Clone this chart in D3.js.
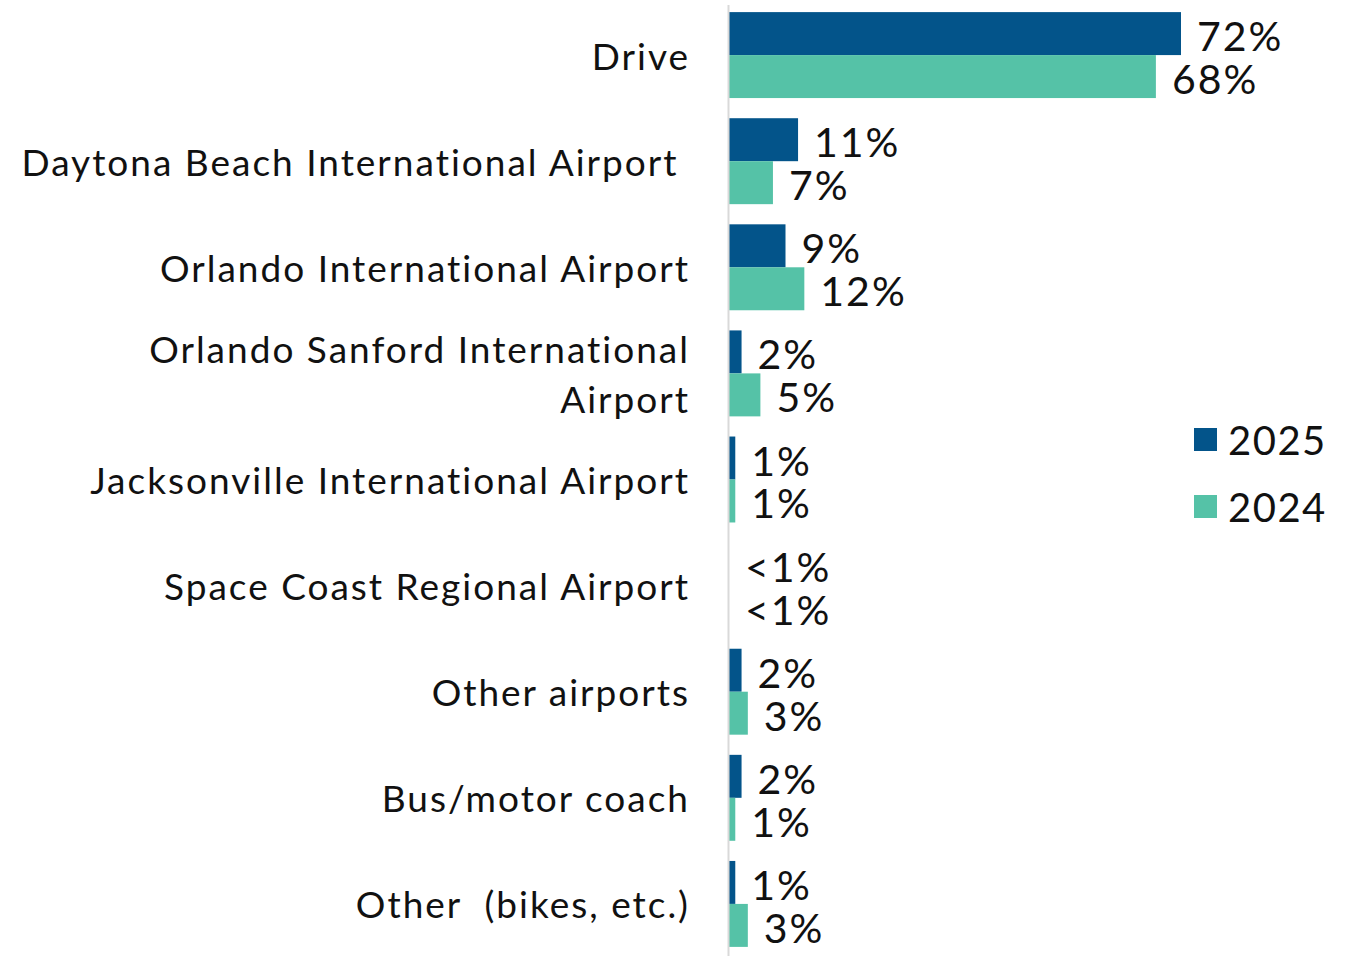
<!DOCTYPE html>
<html>
<head>
<style>
  body { margin: 0; background: #fff; }
  text { font-family: "Lato", sans-serif; fill: #111; }
</style>
</head>
<body>
<script src="https://d3js.org/d3.v7.min.js"></script>
<script>
// categories, top to bottom
var categories = [
  ["Drive"],
  ["Daytona Beach International Airport "],
  ["Orlando International Airport"],
  ["Orlando Sanford International", "Airport"],
  ["Jacksonville International Airport"],
  ["Space Coast Regional Airport"],
  ["Other airports"],
  ["Bus/motor coach"],
  ["Other  (bikes, etc.)"]
];
var series = ["2025", "2024"];
var values2025 = [72, 11, 9, 2, 1, 0, 2, 2, 1];
var values2024 = [68, 7, 12, 5, 1, 0, 3, 1, 3];
var labels2025 = ["72%", "11%", "9%", "2%", "1%", "<1%", "2%", "2%", "1%"];
var labels2024 = ["68%", "7%", "12%", "5%", "1%", "<1%", "3%", "1%", "3%"];
var colors = ["#03548a", "#55c2a7"];

var width = 1345, height = 959;
var svg = d3.select("body").append("svg")
    .attr("width", width)
    .attr("height", height);

var x0 = 729;
var x = d3.scaleLinear().domain([0, 72]).range([x0, 1181]);
var y = d3.scaleBand().domain(d3.range(categories.length))
    .range([1.5, 957.5]).paddingInner(0.19).paddingOuter(0.1);
var sub = d3.scaleBand().domain(series).range([0, y.bandwidth()]);

var rows = categories.map(function (c, i) {
  return { i: i, lines: c, vals: [values2025[i], values2024[i]], labs: [labels2025[i], labels2024[i]] };
});

var g = svg.selectAll("g.row").data(rows).enter().append("g")
    .attr("class", "row")
    .attr("transform", function (d) { return "translate(0," + y(d.i) + ")"; });

g.selectAll("rect").data(function (d) {
  return series.map(function (s, k) { return { s: s, k: k, v: d.vals[k] }; });
}).enter().append("rect")
  .attr("x", x0)
  .attr("y", function (d) { return sub(d.s); })
  .attr("width", function (d) { return x(d.v) - x0; })
  .attr("height", sub.bandwidth())
  .attr("fill", function (d) { return colors[d.k]; });

g.selectAll("text.val").data(function (d) {
  return series.map(function (s, k) { return { s: s, v: d.vals[k], t: d.labs[k] }; });
}).enter().append("text")
  .attr("class", "val")
  .attr("x", function (d) { return x(d.v) + 16; })
  .attr("y", function (d) { return sub(d.s) + sub.bandwidth() / 2 + 2; })
  .attr("dominant-baseline", "central")
  .style("font-size", "41px")
  .style("letter-spacing", "2px")
  .text(function (d) { return d.t; });

// category labels
g.each(function (d) {
  var n = d.lines.length;
  var t = d3.select(this).append("text")
    .attr("text-anchor", "end")
    .attr("xml:space", "preserve")
    .style("white-space", "pre")
    .style("letter-spacing", "2px")
    .style("font-size", "37px");
  d.lines.forEach(function (l, j) {
    t.append("tspan")
      .attr("x", 690)
      .attr("y", y.bandwidth() / 2 + (j - (n - 1) / 2) * 50)
      .attr("dominant-baseline", "central")
      .text(l);
  });
});

// axis line
svg.append("line")
  .attr("x1", x0 - 0.5).attr("x2", x0 - 0.5)
  .attr("y1", 5).attr("y2", 956)
  .attr("stroke", "#d9d9d9").attr("stroke-width", 2);

// legend
var leg = svg.selectAll("g.leg").data(series).enter().append("g")
  .attr("class", "leg")
  .attr("transform", function (d, i) { return "translate(1194," + (428 + i * 67) + ")"; });
leg.append("rect").attr("width", 23).attr("height", 23)
  .attr("fill", function (d, i) { return colors[i]; });
leg.append("text").attr("x", 34).attr("y", 12)
  .attr("dominant-baseline", "central")
  .style("font-size", "40px")
  .style("letter-spacing", "1.5px")
  .text(function (d) { return d; });
</script>
</body>
</html>
